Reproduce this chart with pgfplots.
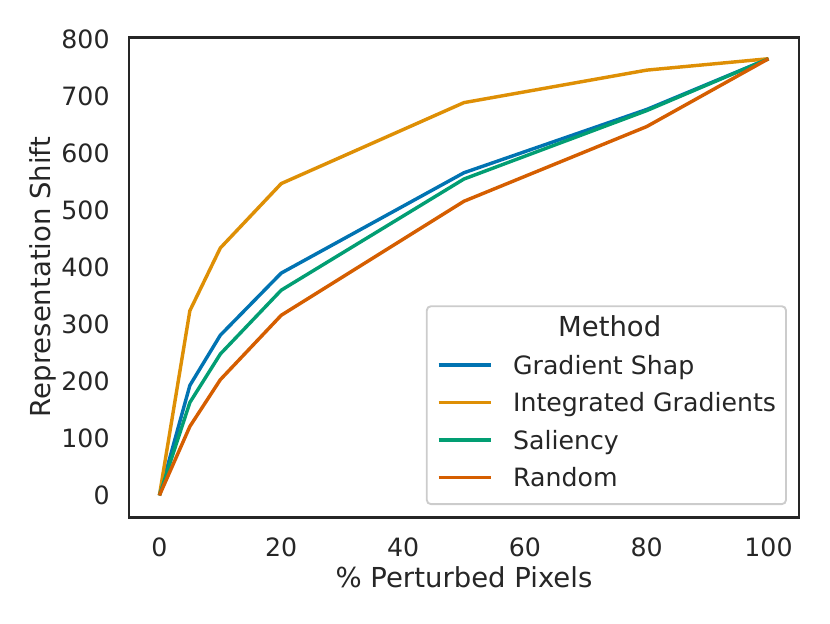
\documentclass[border=0pt]{standalone}
\usepackage{fontspec}
\setmainfont{DejaVu Sans}
\usepackage{pgfplots}
\pgfplotsset{compat=1.18}

\definecolor{cbblue}{HTML}{0173B2}
\definecolor{cborange}{HTML}{DE8F05}
\definecolor{cbgreen}{HTML}{029E73}
\definecolor{cbred}{HTML}{D55E00}
\definecolor{txt}{HTML}{262626}
\definecolor{legframe}{HTML}{CCCCCC}

\newlength\lgW
\newlength\lgM

\begin{document}%
\settowidth{\lgW}{\fontsize{12.1}{14}\selectfont Integrated Gradients}%
\settowidth{\lgM}{\fontsize{13.2}{15}\selectfont Method}%
\begin{tikzpicture}
\begin{axis}[
    scale only axis,
    width=321.6pt, height=230.4pt,
    xmin=-5, xmax=105,
    ymin=-38, ymax=804,
    xtick={0,20,40,60,80,100},
    ytick={0,100,200,300,400,500,600,700,800},
    major tick length=0pt,
    axis line style={txt, line width=1.375pt},
    /pgf/number format/assume math mode=true,
    tick label style={font=\fontsize{12.1}{14}\selectfont, text=txt, inner sep=0pt},
    xticklabel style={yshift=-9.6pt},
    yticklabel style={xshift=-9.1pt},
    xlabel={\% Perturbed Pixels},
    ylabel={Representation Shift},
    every axis x label/.style={at={(axis description cs:0.5,-0.1458)}, anchor=base,
        font=\fontsize{13.2}{15}\selectfont, text=txt},
    every axis y label/.style={at={(axis description cs:-0.1164,0.5)}, rotate=90, anchor=base,
        font=\fontsize{13.2}{15}\selectfont, text=txt},
    legend cell align=left,
    legend image code/.code={\draw[#1] (0pt,4.4pt) -- (25.4pt,4.4pt);},
    legend style={
        at={(rel axis cs:1,0)}, anchor=south east,
        xshift=-5.76pt, yshift=5.76pt,
        draw=legframe, line width=0.9pt, rounded corners=2pt, fill=white,
        inner xsep=4.8pt, inner ysep=5.6pt,
        font=\fontsize{12.1}{14}\selectfont, text=txt,
        column sep=9.6pt, row sep=6.2pt,
        nodes={inner sep=0pt, text height=9pt, text depth=2.8pt, anchor=base west},
    },
]

\addlegendimage{empty legend}
\addlegendentry{\makebox[0pt][l]{\hspace*{\dimexpr(\lgW-\lgM-34.5pt)/2\relax}\fontsize{13.2}{15}\selectfont Method}}

\addplot[cbblue, line width=1.65pt, line join=round] coordinates {
    (0,0) (5,193) (10,281) (20,390) (50,566) (80,677) (100,766)
};
\addlegendentry{Gradient Shap}

\addplot[cborange, line width=1.65pt, line join=round] coordinates {
    (0,0) (5,324) (10,434) (20,547) (50,689) (80,746) (100,766)
};
\addlegendentry{Integrated Gradients}

\addplot[cbgreen, line width=1.65pt, line join=round] coordinates {
    (0,0) (5,163) (10,248) (20,360) (50,555) (80,675) (100,766)
};
\addlegendentry{Saliency}

\addplot[cbred, line width=1.65pt, line join=round] coordinates {
    (0,0) (5,121) (10,203) (20,316) (50,516) (80,647) (100,766)
};
\addlegendentry{Random}

\coordinate (bl) at (rel axis cs:0,0);
\coordinate (tr) at (rel axis cs:1,1);
\end{axis}
\pgfresetboundingbox
\path ([xshift=-61.9pt,yshift=-50.9pt]bl) rectangle ([xshift=14.9pt,yshift=17.8pt]tr);
\end{tikzpicture}%
\end{document}
